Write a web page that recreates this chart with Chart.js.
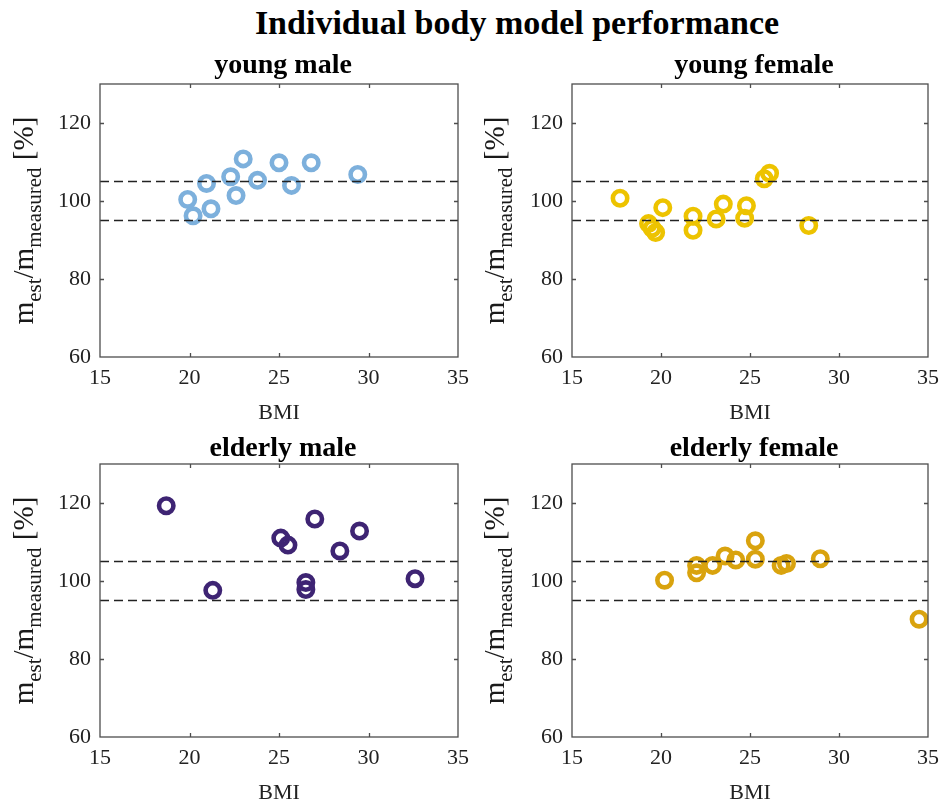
<!DOCTYPE html>
<html>
<head>
<meta charset="utf-8">
<script src="https://cdn.jsdelivr.net/npm/chart.js@4.4.1/dist/chart.umd.min.js"></script>
<style>
    html, body { margin: 0; padding: 0; background: #fff; overflow: hidden; }
    body { width: 942px; height: 799px; position: relative; }
    #mainTitle {
        position: absolute; top: 4px; left: 517px; transform: translateX(-50%);
        white-space: nowrap; font: bold 34px "Liberation Serif", serif; color: #000;
    }
    canvas { position: absolute; }
</style>
</head>
<body>
<div id="mainTitle">Individual body model performance</div>
<canvas id="youngMale" width="471" height="394" style="left:0;top:30px"></canvas>
<canvas id="youngFemale" width="471" height="394" style="left:471px;top:30px"></canvas>
<canvas id="elderlyMale" width="471" height="384" style="left:0;top:420px"></canvas>
<canvas id="elderlyFemale" width="471" height="384" style="left:471px;top:420px"></canvas>
<script>
// --- DATA ---
const xTicks = [15, 20, 25, 30, 35];
const yTicks = [60, 80, 100, 120];
const limitLines = [95, 105];

const youngMaleBmi   = [19.9, 20.2, 20.95, 21.2, 22.3, 22.6, 23.0, 23.8, 25.0, 25.7, 26.8, 29.4];
const youngMaleRatio = [100.4, 96.2, 104.5, 98.0, 106.2, 101.4, 110.8, 105.3, 109.8, 104.0, 109.8, 106.8];

const youngFemaleBmi   = [17.7, 19.3, 19.5, 19.7, 20.1, 21.8, 21.8, 23.1, 23.5, 24.7, 24.8, 25.8, 26.1, 28.3];
const youngFemaleRatio = [100.7, 94.2, 93.0, 91.9, 98.3, 96.1, 92.5, 95.4, 99.2, 95.6, 98.8, 105.7, 107.1, 93.7];

const elderlyMaleBmi   = [18.7, 21.3, 25.1, 25.5, 26.5, 26.5, 27.0, 28.4, 29.5, 32.6];
const elderlyMaleRatio = [119.3, 97.6, 111.0, 109.2, 99.6, 97.8, 115.9, 107.7, 112.8, 100.6];

const elderlyFemaleBmi   = [20.2, 22.0, 22.0, 22.9, 23.6, 24.2, 25.3, 25.3, 26.75, 27.05, 28.95, 34.5];
const elderlyFemaleRatio = [100.2, 104.0, 102.1, 104.0, 106.4, 105.4, 110.3, 105.6, 104.0, 104.5, 105.7, 90.2];

const serif = '"Liberation Serif", serif';

// Box, inward ticks, panel title and the subscripted y label, MATLAB style.
const panelDecor = {
    id: 'panelDecor',
    afterDraw(chart, args, opts) {
        const { ctx, chartArea: a } = chart;
        const xs = chart.scales.x, ys = chart.scales.y;
        ctx.save();
        ctx.strokeStyle = '#4d4d4d';
        ctx.lineWidth = 1.3;
        ctx.beginPath();
        xTicks.slice(1, -1).forEach(v => {
            const px = Math.round(xs.getPixelForValue(v)) + 0.5;
            ctx.moveTo(px, a.bottom); ctx.lineTo(px, a.bottom - 4);
            ctx.moveTo(px, a.top); ctx.lineTo(px, a.top + 4);
        });
        yTicks.slice(1).forEach(v => {
            const py = Math.round(ys.getPixelForValue(v)) + 0.5;
            ctx.moveTo(a.left, py); ctx.lineTo(a.left + 4, py);
            ctx.moveTo(a.right, py); ctx.lineTo(a.right - 4, py);
        });
        ctx.stroke();
        ctx.strokeRect(a.left, a.top, a.right - a.left, a.bottom - a.top);

        // panel title
        ctx.fillStyle = '#000';
        ctx.font = `bold 28px ${serif}`;
        ctx.textAlign = 'center';
        ctx.textBaseline = 'alphabetic';
        ctx.fillText(opts.title, (a.left + a.right) / 2 + 4, a.top - opts.titleGap);

        // y label: m_est/m_measured [%]
        const parts = [
            { t: 'm', sub: false }, { t: 'est', sub: true },
            { t: '/m', sub: false }, { t: 'measured', sub: true },
            { t: ' [%]', sub: false }
        ];
        const mainFont = `29px ${serif}`, subFont = `21px ${serif}`;
        let total = 0;
        parts.forEach(p => {
            ctx.font = p.sub ? subFont : mainFont;
            p.w = ctx.measureText(p.t).width;
            total += p.w;
        });
        ctx.translate(33, (a.top + a.bottom) / 2);
        ctx.rotate(-Math.PI / 2);
        ctx.textAlign = 'left';
        ctx.fillStyle = '#1a1a1a';
        let x = -total / 2;
        parts.forEach(p => {
            ctx.font = p.sub ? subFont : mainFont;
            ctx.fillText(p.t, x, p.sub ? 8 : 0);
            x += p.w;
        });
        ctx.restore();
    }
};

function makePanel(id, title, bmi, ratio, color, yWidth, padRight, padTop, titleGap) {
    const points = bmi.map((b, i) => ({ x: b, y: ratio[i] }));
    const lines = limitLines.map(v => ({
        type: 'line',
        data: [{ x: xTicks[0], y: v }, { x: xTicks[xTicks.length - 1], y: v }],
        borderColor: '#222',
        borderWidth: 1.4,
        borderDash: [9, 5],
        pointRadius: 0,
        fill: false,
        order: 0
    }));
    return new Chart(document.getElementById(id), {
        type: 'scatter',
        data: {
            datasets: [
                ...lines,
                {
                    data: points,
                    borderColor: color,
                    backgroundColor: 'rgba(0,0,0,0)',
                    pointRadius: 7.2,
                    pointBorderWidth: 4.6,
                    pointStyle: 'circle',
                    order: 1
                }
            ]
        },
        options: {
            responsive: false,
            animation: false,
            devicePixelRatio: 1,
            layout: { padding: { top: padTop, left: 0, right: padRight, bottom: 0 } },
            plugins: {
                legend: { display: false },
                tooltip: { enabled: false },
                panelDecor: { title, titleGap }
            },
            scales: {
                x: {
                    type: 'linear',
                    min: xTicks[0],
                    max: xTicks[xTicks.length - 1],
                    afterBuildTicks: s => { s.ticks = xTicks.map(v => ({ value: v })); },
                    afterFit: s => { s.height = 67; s.paddingLeft = 0; s.paddingRight = 0; },
                    grid: { display: false, drawTicks: false },
                    border: { display: false },
                    ticks: { padding: 8, autoSkip: false, maxRotation: 0, color: '#222', font: { family: serif, size: 22 } },
                    title: { display: true, text: 'BMI', color: '#222', padding: 0, font: { family: serif, size: 22, lineHeight: 1 } }
                },
                y: {
                    type: 'linear',
                    min: 60,
                    max: 130,
                    afterBuildTicks: s => { s.ticks = yTicks.map(v => ({ value: v })); },
                    afterFit: s => { s.width = yWidth; s.paddingTop = 0; s.paddingBottom = 0; },
                    grid: { display: false, drawTicks: false },
                    border: { display: false },
                    ticks: { padding: 9, color: '#222', font: { family: serif, size: 22 } }
                }
            }
        },
        plugins: [panelDecor]
    });
}

makePanel('youngMale', 'young male', youngMaleBmi, youngMaleRatio, '#7db0dc', 100, 13, 54, 11);
makePanel('youngFemale', 'young female', youngFemaleBmi, youngFemaleRatio, '#edc300', 101, 14, 54, 11);
makePanel('elderlyMale', 'elderly male', elderlyMaleBmi, elderlyMaleRatio, '#3e2473', 100, 13, 44, 8);
makePanel('elderlyFemale', 'elderly female', elderlyFemaleBmi, elderlyFemaleRatio, '#d9a30e', 101, 14, 44, 8);
</script>
</body>
</html>
